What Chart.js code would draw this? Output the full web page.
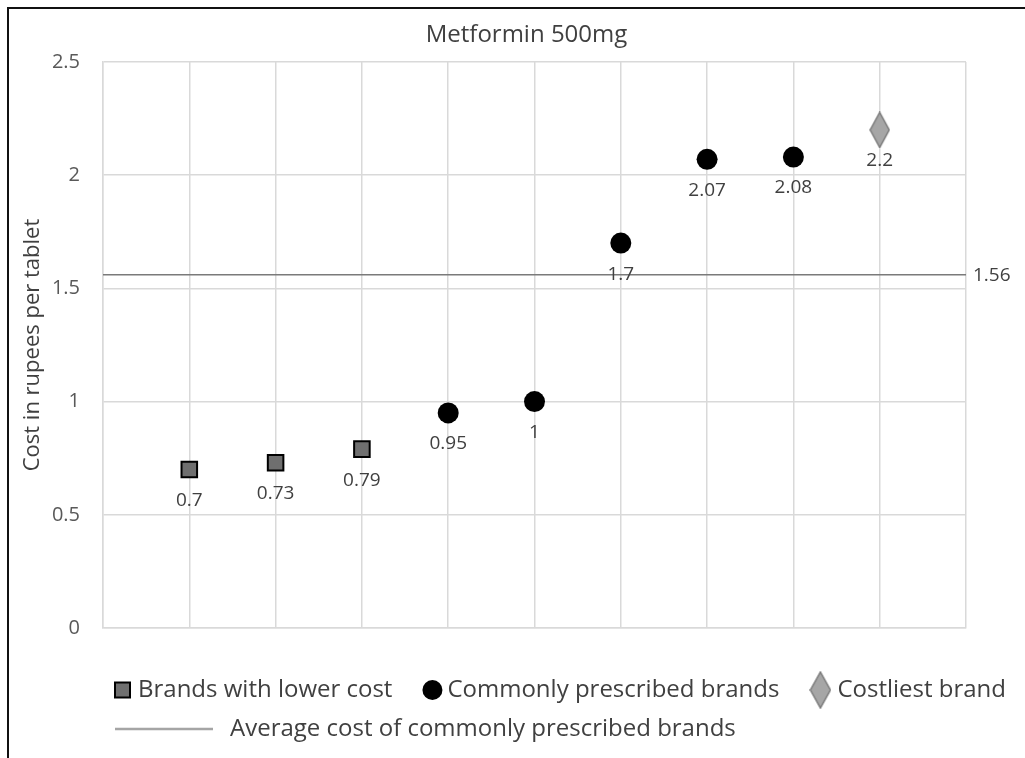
<!DOCTYPE html>
<html>
<head>
<meta charset="utf-8">
<script src="https://cdn.jsdelivr.net/npm/chart.js@4.4.1/dist/chart.umd.min.js"></script>
<style>
  html, body { margin: 0; padding: 0; background: #fff; }
  #wrap { width: 1025px; height: 758px; }
</style>
</head>
<body>
<div id="wrap"><canvas id="costChart" width="1025" height="758"></canvas></div>
<script>
// brand positions along x and their cost per tablet
const lowCostBrands = [1, 2, 3];
const lowCostValues = [0.7, 0.73, 0.79];
const commonBrands = [4, 5, 6, 7, 8];
const commonValues = [0.95, 1, 1.7, 2.07, 2.08];
const costliestBrands = [9];
const costliestValues = [2.2];
const averageCost = 1.56;
const brandRange = [0, 10];
const yTicks = [0, 0.5, 1, 1.5, 2, 2.5];
const chartTitle = 'Metformin 500mg';
const seriesNames = ['Brands with lower cost', 'Commonly prescribed brands', 'Costliest brand',
    'Average cost of commonly prescribed brands'];

const FONT = '"Open Sans", "Liberation Sans", sans-serif';

function makeDiamond(w, h, fill, stroke) {
    const c = document.createElement('canvas');
    c.width = w + 2;
    c.height = h + 2;
    const g = c.getContext('2d');
    g.beginPath();
    g.moveTo(c.width / 2, 1);
    g.lineTo(c.width - 1, c.height / 2);
    g.lineTo(c.width / 2, c.height - 1);
    g.lineTo(1, c.height / 2);
    g.closePath();
    g.fillStyle = fill;
    g.fill();
    g.lineWidth = 1.5;
    g.strokeStyle = stroke;
    g.stroke();
    return c;
}

const diamond = makeDiamond(19, 35, '#a6a6a6', '#7a7a7a');
const legendDiamond = makeDiamond(20, 36, '#a6a6a6', '#7a7a7a');

function toPoints(xs, ys) {
    return xs.map((x, i) => ({ x: x, y: ys[i] }));
}

// outer frame (top and left edges only, like the cropped original) + title
const framePlugin = {
    id: 'frame',
    beforeDraw(chart) {
        const ctx = chart.ctx;
        ctx.save();
        ctx.fillStyle = '#fff';
        ctx.fillRect(0, 0, chart.width, chart.height);
        ctx.strokeStyle = '#111';
        ctx.lineWidth = 2;
        ctx.beginPath();
        ctx.moveTo(8, chart.height);
        ctx.lineTo(8, 8);
        ctx.lineTo(chart.width, 8);
        ctx.stroke();

        ctx.font = '24px ' + FONT;
        ctx.fillStyle = '#404040';
        ctx.textAlign = 'center';
        ctx.textBaseline = 'middle';
        const area = chart.chartArea;
        ctx.fillText(chartTitle, (area.left + area.right) / 2 - 8, 35);
        ctx.restore();
    }
};

// value labels under each marker, plus the average value at the right end
const valueLabels = {
    id: 'valueLabels',
    afterDatasetsDraw(chart) {
        const ctx = chart.ctx;
        ctx.save();
        ctx.font = '19px ' + FONT;
        ctx.fillStyle = '#404040';
        ctx.textAlign = 'center';
        ctx.textBaseline = 'middle';
        for (let d = 0; d < 3; d++) {
            const meta = chart.getDatasetMeta(d);
            meta.data.forEach((el, i) => {
                const v = chart.data.datasets[d].data[i].y;
                ctx.fillText(String(v), el.x, el.y + 31);
            });
        }
        const avgMeta = chart.getDatasetMeta(3);
        const last = avgMeta.data[avgMeta.data.length - 1];
        ctx.textAlign = 'left';
        ctx.fillText(String(averageCost), chart.chartArea.right + 7, last.y + 1);
        ctx.restore();
    }
};

const customLegend = {
    id: 'customLegend',
    afterDraw(chart) {
        const ctx = chart.ctx;
        ctx.save();
        ctx.font = '24px ' + FONT;
        ctx.textBaseline = 'middle';
        ctx.textAlign = 'left';
        const row1 = 690, row2 = 729;
        let x = 115;

        // square
        ctx.fillStyle = '#6f6f6f';
        ctx.strokeStyle = '#000';
        ctx.lineWidth = 2;
        ctx.fillRect(x, row1 - 7.5, 15, 15);
        ctx.strokeRect(x, row1 - 7.5, 15, 15);
        x += 15 + 8;
        ctx.fillStyle = '#404040';
        ctx.fillText(seriesNames[0], x, row1);
        x += ctx.measureText(seriesNames[0]).width + 30;

        // circle
        ctx.fillStyle = '#000';
        ctx.beginPath();
        ctx.arc(x + 10, row1, 10, 0, Math.PI * 2);
        ctx.fill();
        x += 20 + 5;
        ctx.fillStyle = '#404040';
        ctx.fillText(seriesNames[1], x, row1);
        x += ctx.measureText(seriesNames[1]).width + 30;

        // diamond
        ctx.drawImage(legendDiamond, x, row1 - legendDiamond.height / 2);
        x += legendDiamond.width + 6;
        ctx.fillText(seriesNames[2], x, row1);

        // average line
        ctx.strokeStyle = '#a5a5a5';
        ctx.lineWidth = 2.5;
        ctx.beginPath();
        ctx.moveTo(115, row2);
        ctx.lineTo(213, row2);
        ctx.stroke();
        ctx.fillText(seriesNames[3], 230, row2);
        ctx.restore();
    }
};

const ctx = document.getElementById('costChart').getContext('2d');
const costChart = new Chart(ctx, {
    type: 'scatter',
    data: {
        datasets: [
            {
                label: seriesNames[0],
                data: toPoints(lowCostBrands, lowCostValues),
                pointStyle: 'rect',
                pointRadius: 11,
                pointBackgroundColor: '#6f6f6f',
                pointBorderColor: '#000',
                pointBorderWidth: 2
            },
            {
                label: seriesNames[1],
                data: toPoints(commonBrands, commonValues),
                pointStyle: 'circle',
                pointRadius: 10.5,
                pointBackgroundColor: '#000',
                pointBorderColor: '#000',
                pointBorderWidth: 0
            },
            {
                label: seriesNames[2],
                data: toPoints(costliestBrands, costliestValues),
                pointStyle: diamond,
                pointRadius: 18
            },
            {
                label: seriesNames[3],
                data: [{ x: brandRange[0], y: averageCost }, { x: brandRange[1], y: averageCost }],
                showLine: true,
                borderColor: '#7a7a7a',
                borderWidth: 1.5,
                pointRadius: 0
            }
        ]
    },
    options: {
        responsive: false,
        animation: false,
        events: [],
        layout: {
            padding: { top: 62, left: 8, right: 59, bottom: 118 }
        },
        scales: {
            x: {
                type: 'linear',
                min: brandRange[0],
                max: brandRange[1],
                ticks: { display: false, stepSize: 1 },
                grid: { color: '#d9d9d9', lineWidth: 1.5, drawTicks: false },
                border: { color: '#d9d9d9', width: 1.5 },
                afterFit: function(scale) { scale.height = 12; }
            },
            y: {
                min: yTicks[0],
                max: yTicks[yTicks.length - 1],
                afterBuildTicks: function(scale) {
                    scale.ticks = yTicks.map(v => ({ value: v }));
                },
                ticks: {
                    color: '#595959',
                    font: { family: FONT, size: 20 },
                    padding: 23,
                    callback: function(value) { return String(value); }
                },
                grid: { color: '#d9d9d9', lineWidth: 1.5, drawTicks: false },
                border: { color: '#d9d9d9', width: 1.5 },
                title: {
                    display: true,
                    text: 'Cost in rupees per tablet',
                    color: '#404040',
                    font: { family: FONT, size: 22 },
                    padding: { top: 12, bottom: 0 }
                },
                afterFit: function(scale) { scale.width = 95; }
            }
        },
        plugins: {
            legend: { display: false },
            tooltip: { enabled: false },
            title: { display: false }
        }
    },
    plugins: [framePlugin, valueLabels, customLegend]
});
</script>
</body>
</html>
